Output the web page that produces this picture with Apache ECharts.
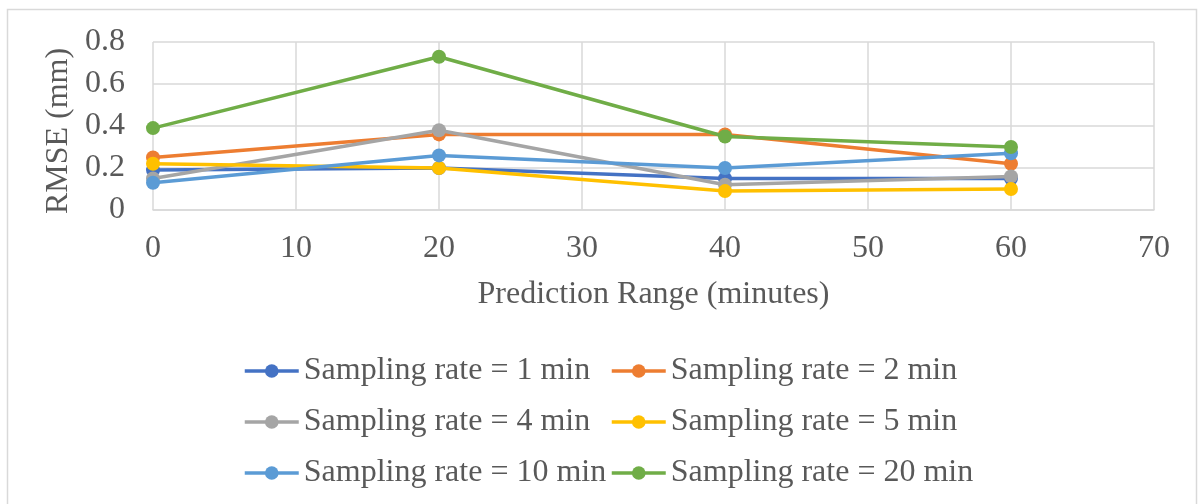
<!DOCTYPE html>
<html>
<head>
<meta charset="utf-8">
<script src="https://cdn.jsdelivr.net/npm/echarts@6/dist/echarts.min.js"></script>
<style>
  html, body { margin: 0; padding: 0; background: #ffffff; }
  #chart { width: 1198px; height: 504px; }
</style>
</head>
<body>
<div id="chart"></div>
<script>
// Prediction range (minutes) on the x axis
const predictionRange = [0, 20, 40, 60];

// RMSE (mm) for each sampling rate
const rate1min = [0.19, 0.20, 0.15, 0.15];
const rate2min = [0.25, 0.36, 0.36, 0.22];
const rate4min = [0.15, 0.38, 0.12, 0.16];
const rate5min = [0.22, 0.20, 0.09, 0.10];
const rate10min = [0.13, 0.26, 0.20, 0.27];
const rate20min = [0.39, 0.73, 0.35, 0.30];

const seriesNames = [
  'Sampling rate = 1 min', 'Sampling rate = 2 min',
  'Sampling rate = 4 min', 'Sampling rate = 5 min',
  'Sampling rate = 10 min', 'Sampling rate = 20 min'
];
const seriesValues = [rate1min, rate2min, rate4min, rate5min, rate10min, rate20min];
const seriesColors = ['#4472C4', '#ED7D31', '#A5A5A5', '#FFC000', '#5B9BD5', '#70AD47'];

const FONT = '"Liberation Serif", "Times New Roman", serif';
const TEXT = '#595959';
const GRID = '#D9D9D9';
const FS = 32;

const chart = echarts.init(document.getElementById('chart'), null, { renderer: 'canvas' });

// legend laid out as a 2-column, 3-row table: one legend block per entry
const legendCols = [238, 605];
const legendRows = [350, 401, 452];
const legends = seriesNames.map((name, i) => ({
  data: [name],
  left: legendCols[i % 2],
  top: legendRows[Math.floor(i / 2)],
  itemWidth: 54,
  itemHeight: 17,
  lineStyle: { width: 3.5 },
  textStyle: { fontFamily: FONT, fontSize: FS, color: TEXT }
}));

chart.setOption({
  animation: false,
  backgroundColor: '#ffffff',
  graphic: [{
    type: 'rect',
    shape: { x: 7.5, y: 9.5, width: 1189, height: 510 },
    style: { fill: 'none', stroke: GRID, lineWidth: 1.5 },
    silent: true
  }],
  grid: { left: 153, right: 44, top: 42, bottom: 294, containLabel: false },
  legend: legends,
  xAxis: {
    type: 'value',
    min: 0, max: 70, interval: 10,
    name: 'Prediction Range (minutes)',
    nameLocation: 'middle',
    nameGap: 69,
    nameTextStyle: { fontFamily: FONT, fontSize: FS, color: TEXT },
    axisLine: { show: true, lineStyle: { color: GRID, width: 1.5 } },
    axisTick: { show: false },
    axisLabel: { fontFamily: FONT, fontSize: FS, color: TEXT, margin: 23 },
    splitLine: { show: true, lineStyle: { color: GRID, width: 1.5 } }
  },
  yAxis: {
    type: 'value',
    min: 0, max: 0.8, interval: 0.2,
    name: 'RMSE (mm)',
    nameLocation: 'middle',
    nameGap: 73,
    nameRotate: 90,
    nameTextStyle: { fontFamily: FONT, fontSize: FS, color: TEXT, padding: [0, 10, 0, 0] },
    axisLine: { show: false },
    axisTick: { show: false },
    axisLabel: {
      fontFamily: FONT, fontSize: FS, color: TEXT, margin: 28,
      formatter: v => (Math.round(v * 10) / 10).toString()
    },
    splitLine: { show: true, lineStyle: { color: GRID, width: 1.5 } }
  },
  series: seriesNames.map((name, i) => ({
    name: name,
    type: 'line',
    data: predictionRange.map((x, j) => [x, seriesValues[i][j]]),
    symbol: 'circle',
    symbolSize: 14,
    color: seriesColors[i],
    lineStyle: { width: 3.5, color: seriesColors[i] },
    itemStyle: { color: seriesColors[i] },
    z: 2 + i
  }))
});
</script>
</body>
</html>
